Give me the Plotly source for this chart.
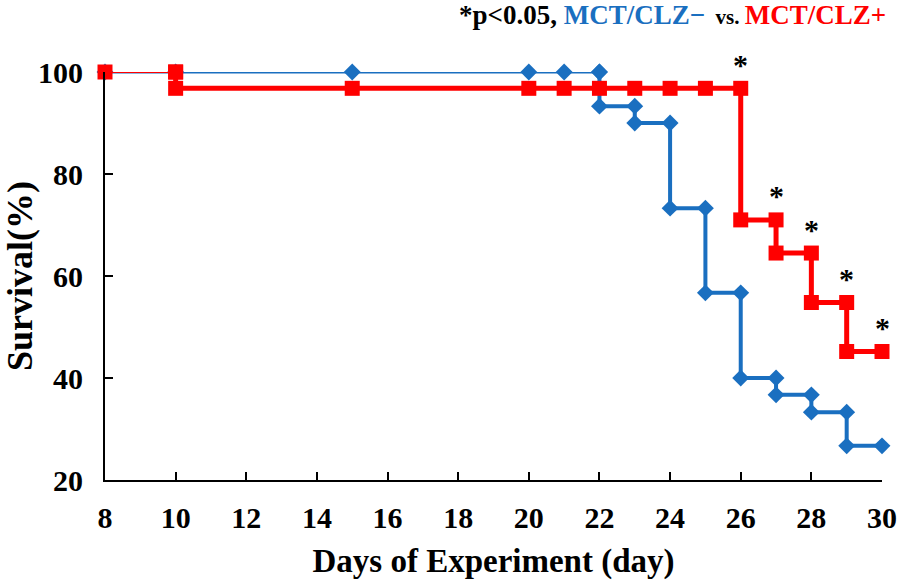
import plotly.graph_objects as go

# ---- data ----
blue_x = [8, 10, 15, 20, 21, 22, 22, 23, 23, 24, 24, 25, 25, 26, 26, 27, 27, 28, 28, 29, 29, 30]
blue_y = [100, 100, 100, 100, 100, 100, 93.3, 93.3, 90, 90, 73.3, 73.3, 56.7, 56.7, 40, 40,
          36.7, 36.7, 33.3, 33.3, 26.7, 26.7]
red_x = [8, 10, 10, 15, 20, 21, 22, 23, 24, 25, 26, 26, 27, 27, 28, 28, 29, 29, 30]
red_y = [100, 100, 96.8, 96.8, 96.8, 96.8, 96.8, 96.8, 96.8, 96.8, 96.8, 71.0, 71.0, 64.5,
         64.5, 54.8, 54.8, 45.2, 45.2]
star_x = [26, 27, 28, 29, 30]
star_y = [96.8, 71.0, 64.5, 54.8, 45.2]
x_ticks = [8, 10, 12, 14, 16, 18, 20, 22, 24, 26, 28, 30]
y_ticks = [20, 40, 60, 80, 100]

BLUE = "#1a6fc0"
RED = "#ff0000"
FONT = "Liberation Serif"

fig = go.Figure()
fig.add_trace(go.Scatter(
    x=blue_x[:6], y=blue_y[:6], mode="lines+markers",
    line=dict(color=BLUE, width=3),
    marker=dict(symbol="diamond", size=13, color=BLUE),
    cliponaxis=False, showlegend=False))
fig.add_trace(go.Scatter(
    x=blue_x[5:], y=blue_y[5:], mode="lines+markers",
    line=dict(color=BLUE, width=4),
    marker=dict(symbol="diamond", size=13, color=BLUE),
    cliponaxis=False, showlegend=False))
fig.add_trace(go.Scatter(
    x=red_x[:2], y=red_y[:2], mode="lines+markers",
    line=dict(color=RED, width=2),
    marker=dict(symbol="square", size=15, color=RED),
    cliponaxis=False, showlegend=False))
fig.add_trace(go.Scatter(
    x=red_x[1:], y=red_y[1:], mode="lines+markers",
    line=dict(color=RED, width=5),
    marker=dict(symbol="square", size=15, color=RED),
    cliponaxis=False, showlegend=False))

for sx, sy in zip(star_x, star_y):
    fig.add_annotation(x=sx, y=sy, text="*", showarrow=False, yshift=24,
                       font=dict(family=FONT, size=30, color="black", weight="bold"))

fig.add_annotation(
    xref="paper", yref="paper", x=1.008, y=1.14, xanchor="right", yanchor="middle",
    showarrow=False,
    text=("<span style='color:black'>*p&lt;0.05, </span>"
          f"<span style='color:{BLUE}'>MCT/CLZ\u2212</span>"
          "<span style='color:black;font-size:21px'>  vs. </span>"
          f"<span style='color:{RED}'>MCT/CLZ+</span>"),
    font=dict(family=FONT, size=27, weight="bold"))

axis_common = dict(
    showline=True, linecolor="black", linewidth=2,
    ticks="inside", ticklen=8, tickwidth=2, tickcolor="black",
    showgrid=False, zeroline=False, automargin=False,
    tickfont=dict(family=FONT, size=30, color="black", weight="bold"),
)
fig.update_xaxes(range=[8, 30], tickvals=x_ticks, ticklabelstandoff=10,
                 title=dict(text="Days of Experiment (day)", standoff=16,
                            font=dict(family=FONT, size=33, color="black", weight="bold")),
                 **axis_common)
fig.update_yaxes(range=[20, 100], tickvals=y_ticks, ticklabelstandoff=14,
                 title=dict(text="Survival(%)", standoff=12,
                            font=dict(family=FONT, size=36, color="black", weight="bold")),
                 **axis_common)

fig.update_layout(
    width=904, height=581,
    margin=dict(l=105, r=22, t=72, b=101),
    plot_bgcolor="white", paper_bgcolor="white",
)
fig.write_html("out.html", config={"displayModeBar": False},
               post_script="document.body.style.margin='0';")
